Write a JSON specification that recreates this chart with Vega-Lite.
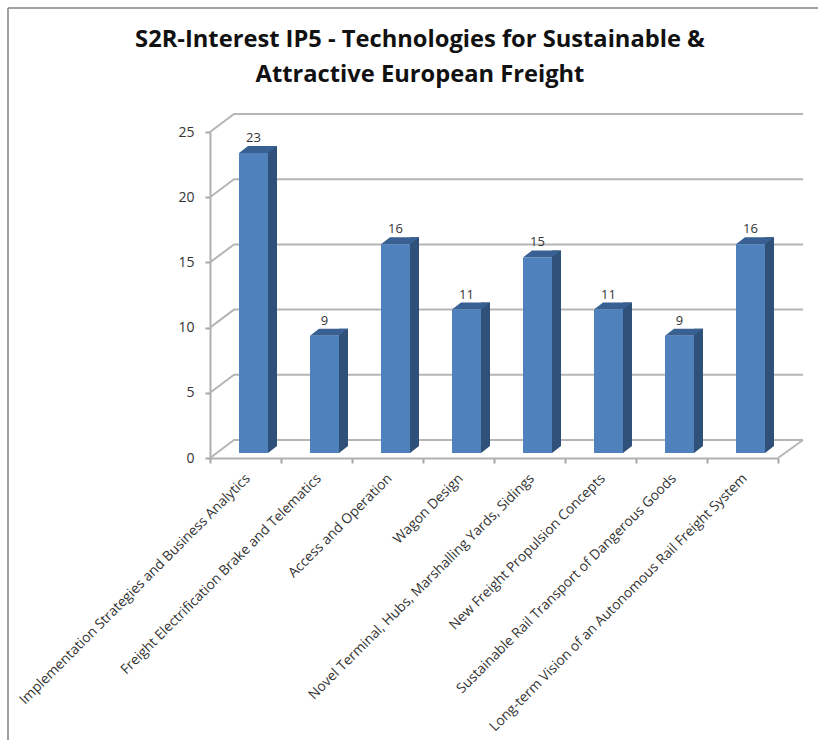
{
"$schema":"https://vega.github.io/schema/vega-lite/v6.json",
"width":568,"height":326,
"autosize":"none",
"padding":{"left":210,"top":132,"right":40,"bottom":282},
"background":"white",
"config":{"view":{"stroke":null}},
"title":{"text":["S2R-Interest IP5 - Technologies for Sustainable &","Attractive European Freight"],"frame":"group","anchor":"middle","dx":-74,"dy":102,"font":"Open Sans","fontSize":23.7,"fontWeight":"bold","color":"#111111","lineHeight":35,"baseline":"alphabetic"},
"datasets":{
"bars":[
{"topic":"Implementation Strategies and Business Analytics","count":23},
{"topic":"Freight Electrification Brake and Telematics","count":9},
{"topic":"Access and Operation","count":16},
{"topic":"Wagon Design","count":11},
{"topic":"Novel Terminal, Hubs, Marshalling Yards, Sidings","count":15},
{"topic":"New Freight Propulsion Concepts","count":11},
{"topic":"Sustainable Rail Transport of Dangerous Goods","count":9},
{"topic":"Long-term Vision of an Autonomous Rail Freight System","count":16}
],
"ticks":[{"v":0},{"v":5},{"v":10},{"v":15},{"v":20},{"v":25}]
},
"data":{"name":"bars"},
"encoding":{
"x":{"field":"topic","type":"nominal","sort":null,"scale":{"paddingInner":0,"paddingOuter":0},"axis":{"title":null,"labelAngle":-45,"labelAlign":"right","labelBaseline":"middle","labelFont":"Open Sans","labelFontSize":13.8,"labelColor":"#333333","labelLimit":0,"labelOverlap":false,"tickBand":"extent","tickColor":"#a6a6a6","tickSize":5,"tickWidth":2,"domainColor":"#b0b0b0","domainWidth":2,"labelPadding":13,"labelOffset":2,"grid":false}},
"y":{"field":"count","type":"quantitative","scale":{"domain":[0,25],"nice":false},"axis":{"title":null,"values":[0,5,10,15,20,25],"labelFont":"Open Sans","labelFontSize":14,"labelColor":"#333333","tickColor":"#a6a6a6","tickSize":5,"tickWidth":2,"domainColor":"#b0b0b0","domainWidth":2,"labelPadding":11,"grid":false}}
},
"layer":[
{"data":{"name":"ticks"},
 "mark":{"type":"point","shape":"M0,0L24,-18L593,-18","size":4,"filled":false,"stroke":"#b5b5b5","strokeWidth":2,"opacity":1},
 "encoding":{"x":{"value":0},"y":{"field":"v","type":"quantitative"}}},
{"data":{"values":[{"v":0}]},
 "mark":{"type":"point","shape":"M0,0L25,-18","size":4,"filled":false,"stroke":"#b5b5b5","strokeWidth":2,"opacity":1},
 "encoding":{"x":{"value":568},"y":{"field":"v","type":"quantitative"}}},
{"mark":{"type":"bar","size":9,"xOffset":27,"yOffset":-12,"color":"#2f5079"}},
{"mark":{"type":"point","shape":"M22.5,-5L31.5,-12L22.5,-12Z","size":4,"filled":true,"fill":"#2f5079","opacity":1,"strokeWidth":0},
 "encoding":{"y":{"datum":0}}},
{"mark":{"type":"point","shape":"M-6.5,-5L2.5,-12L31.5,-12L22.5,-5Z","size":4,"filled":true,"fill":"#386092","opacity":1,"strokeWidth":0}},
{"mark":{"type":"bar","size":29,"xOffset":8,"yOffset":-5,"color":"#4f81bd"}},
{"mark":{"type":"text","xOffset":8,"yOffset":-16,"baseline":"alphabetic","font":"Open Sans","fontSize":13,"color":"#333333"},
 "encoding":{"text":{"field":"count","type":"quantitative"}}},
{"data":{"values":[{"a":1}]},
 "mark":{"type":"rule","stroke":"#808080","strokeWidth":1.5},
 "encoding":{"x":{"value":-202},"y":{"value":-124},"y2":{"value":608}}},
{"data":{"values":[{"a":1}]},
 "mark":{"type":"rule","stroke":"#808080","strokeWidth":1.5},
 "encoding":{"x":{"value":-202},"x2":{"value":608},"y":{"value":-124}}}
]
}
